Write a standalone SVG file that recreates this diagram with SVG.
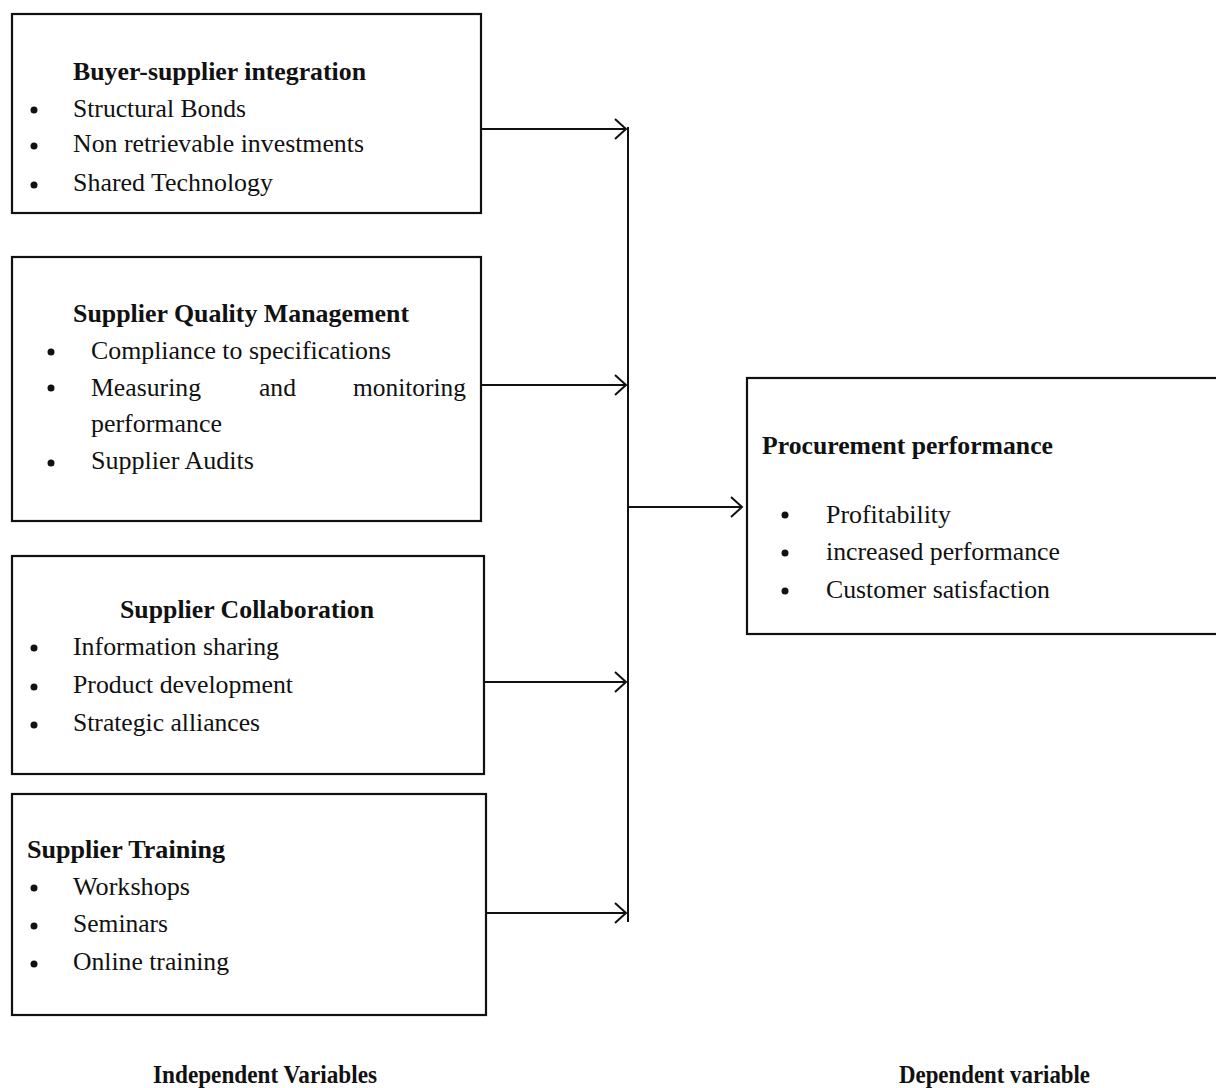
<svg xmlns="http://www.w3.org/2000/svg" width="1216" height="1088" viewBox="0 0 1216 1088">
<defs>
<style>
.box{fill:#fff;stroke:#111;stroke-width:2.2}
text{font-family:"Liberation Serif","Times New Roman",serif;font-size:26px;fill:#111}
.t{font-weight:bold}
.b{fill:#111}
.c{stroke:#111;stroke-width:2;fill:none}
</style>
<marker id="ah" markerUnits="userSpaceOnUse" markerWidth="14" markerHeight="24" refX="12" refY="11" orient="auto">
<path d="M1,1 L12,11 L1,21" fill="none" stroke="#111" stroke-width="2"/>
</marker>
</defs>
<rect width="1216" height="1088" fill="#fff"/>

<g id="node-buyer-supplier">
<rect class="box" x="12" y="14" width="469" height="199"/>
<text class="t" x="73" y="80" textLength="293" lengthAdjust="spacingAndGlyphs">Buyer-supplier integration</text>
<circle class="b" cx="34" cy="110" r="3.5"/>
<text x="73" y="117" textLength="173" lengthAdjust="spacingAndGlyphs">Structural Bonds</text>
<circle class="b" cx="34" cy="146" r="3.5"/>
<text x="73" y="152" textLength="291" lengthAdjust="spacingAndGlyphs">Non retrievable investments</text>
<circle class="b" cx="34" cy="185" r="3.5"/>
<text x="73" y="191" textLength="200" lengthAdjust="spacingAndGlyphs">Shared Technology</text>
</g>

<g id="node-supplier-quality">
<rect class="box" x="12" y="257" width="469" height="264"/>
<text class="t" x="73" y="322" textLength="336" lengthAdjust="spacingAndGlyphs">Supplier Quality Management</text>
<circle class="b" cx="51" cy="352" r="3.5"/>
<text x="91" y="359" textLength="300" lengthAdjust="spacingAndGlyphs">Compliance to specifications</text>
<circle class="b" cx="51" cy="388" r="3.5"/>
<text x="91" y="396" textLength="110" lengthAdjust="spacingAndGlyphs">Measuring</text>
<text x="259" y="396" textLength="37" lengthAdjust="spacingAndGlyphs">and</text>
<text x="353" y="396" textLength="113" lengthAdjust="spacingAndGlyphs">monitoring</text>
<text x="91" y="432" textLength="131" lengthAdjust="spacingAndGlyphs">performance</text>
<circle class="b" cx="51" cy="463" r="3.5"/>
<text x="91" y="469" textLength="163" lengthAdjust="spacingAndGlyphs">Supplier Audits</text>
</g>

<g id="node-supplier-collaboration">
<rect class="box" x="12" y="556" width="472" height="218"/>
<text class="t" x="120" y="618" textLength="254" lengthAdjust="spacingAndGlyphs">Supplier Collaboration</text>
<circle class="b" cx="34" cy="648" r="3.5"/>
<text x="73" y="655" textLength="206" lengthAdjust="spacingAndGlyphs">Information sharing</text>
<circle class="b" cx="34" cy="687" r="3.5"/>
<text x="73" y="693" textLength="220" lengthAdjust="spacingAndGlyphs">Product development</text>
<circle class="b" cx="34" cy="725" r="3.5"/>
<text x="73" y="731" textLength="187" lengthAdjust="spacingAndGlyphs">Strategic alliances</text>
</g>

<g id="node-supplier-training">
<rect class="box" x="12" y="794" width="474" height="221"/>
<text class="t" x="27" y="858" textLength="198" lengthAdjust="spacingAndGlyphs">Supplier Training</text>
<circle class="b" cx="34" cy="888" r="3.5"/>
<text x="73" y="895" textLength="117" lengthAdjust="spacingAndGlyphs">Workshops</text>
<circle class="b" cx="34" cy="926" r="3.5"/>
<text x="73" y="932" textLength="95" lengthAdjust="spacingAndGlyphs">Seminars</text>
<circle class="b" cx="34" cy="964" r="3.5"/>
<text x="73" y="970" textLength="156" lengthAdjust="spacingAndGlyphs">Online training</text>
</g>

<g id="node-procurement-performance">
<rect class="box" x="747" y="378" width="480" height="256"/>
<text class="t" x="762" y="454" textLength="291" lengthAdjust="spacingAndGlyphs">Procurement performance</text>
<circle class="b" cx="785" cy="515" r="3.5"/>
<text x="826" y="523" textLength="125" lengthAdjust="spacingAndGlyphs">Profitability</text>
<circle class="b" cx="785" cy="553" r="3.5"/>
<text x="826" y="560" textLength="234" lengthAdjust="spacingAndGlyphs">increased performance</text>
<circle class="b" cx="785" cy="591" r="3.5"/>
<text x="826" y="598" textLength="224" lengthAdjust="spacingAndGlyphs">Customer satisfaction</text>
</g>

<g id="connectors">
<line class="c" x1="628" y1="127" x2="628" y2="922"/>
<line class="c" x1="481" y1="129" x2="626" y2="129" marker-end="url(#ah)"/>
<line class="c" x1="481" y1="385" x2="626" y2="385" marker-end="url(#ah)"/>
<line class="c" x1="484" y1="682" x2="626" y2="682" marker-end="url(#ah)"/>
<line class="c" x1="486" y1="913" x2="626" y2="913" marker-end="url(#ah)"/>
<line class="c" x1="628" y1="507" x2="742" y2="507" marker-end="url(#ah)"/>
</g>

<g id="labels">
<text class="t" x="153" y="1083" textLength="224" lengthAdjust="spacingAndGlyphs">Independent Variables</text>
<text class="t" x="899" y="1083" textLength="191" lengthAdjust="spacingAndGlyphs">Dependent variable</text>
</g>
</svg>
